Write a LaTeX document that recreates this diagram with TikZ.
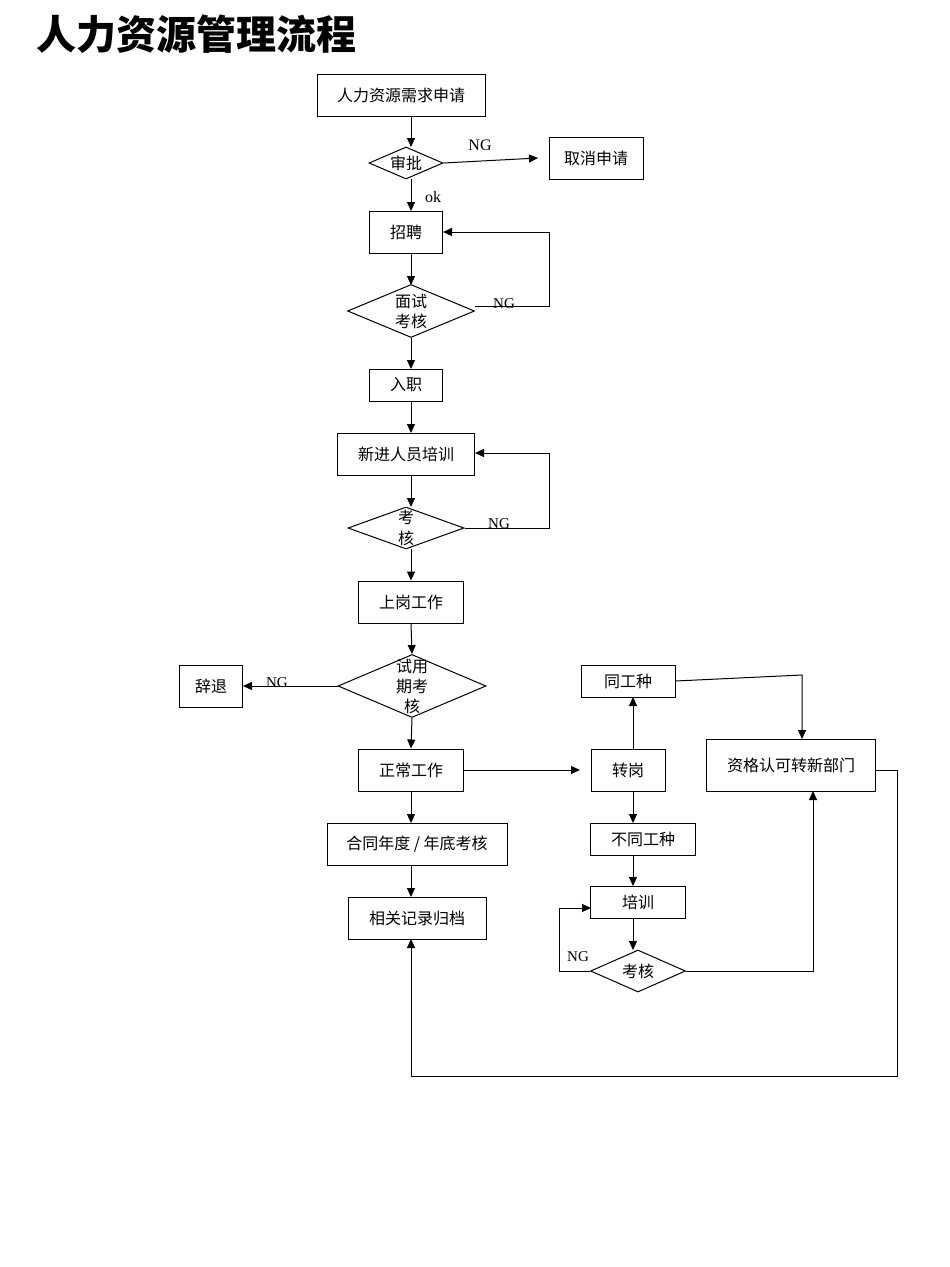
\documentclass[tikz,border=0pt]{standalone}
\usepackage{fontspec}
\setmainfont{Liberation Serif}
\newfontfamily\cjk{Noto Sans CJK SC}
\usetikzlibrary{shapes.geometric,arrows.meta}
\begin{document}
\begin{tikzpicture}[x=1pt,y=-1pt,line width=1pt,
  box/.style={draw,rectangle,inner sep=0,font=\cjk\fontsize{16}{18}\selectfont},
  dia/.style={draw,diamond,inner sep=0,aspect=2},
  dl/.style={font=\cjk\fontsize{16}{20}\selectfont,align=center},
  lab/.style={font=\fontsize{16}{18}\selectfont},
  arr/.style={-{Triangle[length=9pt,width=8pt]}}]
\useasboundingbox (0,0) rectangle (950,1267);
\node[anchor=west,font=\cjk\bfseries\fontsize{40}{44}\selectfont] (title) at (33,34) {人力资源管理流程};
\node[box,minimum width=168,minimum height=42] (req) at (401,95) {人力资源需求申请};
\node[dia,minimum width=74,minimum height=32] (ap) at (406,163) {};
\node[dl] (apt) at (ap) {审批};
\node[box,minimum width=94,minimum height=42] (cancel) at (596,158) {取消申请};
\node[box,minimum width=73,minimum height=42] (rec) at (406,232) {招聘};
\node[dia,minimum width=127,minimum height=53] (iv) at (411,311) {};
\node[dl] (ivt) at (iv) {面试\\考核};
\node[box,minimum width=73,minimum height=32] (join) at (406,385) {入职};
\node[box,minimum width=137,minimum height=42] (tr) at (406,454) {新进人员培训};
\node[dia,minimum width=116,minimum height=42] (ex) at (406,528) {};
\node[dl,font=\cjk\fontsize{16}{21}\selectfont] (ext) at (ex) {考\\核};
\node[box,minimum width=105,minimum height=42] (work) at (411,602) {上岗工作};
\node[dia,minimum width=148,minimum height=63] (pb) at (412,686) {};
\node[dl] (pbt) at (pb) {试用\\期考\\核};
\node[box,minimum width=63,minimum height=42] (res) at (211,686) {辞退};
\node[box,minimum width=105,minimum height=42] (norm) at (411,770) {正常工作};
\node[box,minimum width=180,minimum height=42] (con) at (417,844) {合同年度 / 年底考核};
\node[box,minimum width=138,minimum height=42] (arc) at (417,918) {相关记录归档};
\node[box,minimum width=74,minimum height=42] (tf) at (628,770) {转岗};
\node[box,minimum width=94,minimum height=32] (same) at (628,681) {同工种};
\node[box,minimum width=169,minimum height=52] (qual) at (791,765) {资格认可转新部门};
\node[box,minimum width=105,minimum height=32] (diff) at (643,839) {不同工种};
\node[box,minimum width=95,minimum height=32] (tr2) at (638,902) {培训};
\node[dia,minimum width=95,minimum height=42] (ex2) at (638,971) {};
\node[dl] (ex2t) at (ex2) {考核};
\coordinate (c1) at (549,306); \coordinate (c2) at (549,232);
\coordinate (c3) at (549,528); \coordinate (c4) at (549,453);
\coordinate (c5) at (802,675); \coordinate (c6) at (559,971); \coordinate (c7) at (559,908);
\coordinate (c8) at (813,971); \coordinate (c9) at (897,770); \coordinate (c10) at (897,1076);
\coordinate (c11) at (411,1076);
\draw[arr] (req.south -| 411,0) -- (411,147);
\draw[arr] (ap.east) -- (538,158);
\node[lab] (ng1) at (480,145) {NG};
\draw[arr] (411,179) -- (411,211);
\node[lab] (ok) at (433,197) {ok};
\draw[arr] (411,253) -- (411,285);
\draw[arr] (475,306) -- (c1) -- (c2) -- (rec.east);
\node[lab,font=\fontsize{15}{16}\selectfont] (ng2) at (504,304) {NG};
\draw[arr] (411,338) -- (411,369);
\draw[arr] (411,401) -- (411,433);
\draw[arr] (411,475) -- (411,507);
\draw[arr] (ex.east) -- (c3) -- (c4) -- (475,453);
\node[lab,font=\fontsize{15}{16}\selectfont] (ng3) at (499,524) {NG};
\draw[arr] (411,549) -- (work.north);
\draw[arr] (work.south) -- (pb.north);
\draw[arr] (pb.west) -- (res.east);
\node[lab,font=\fontsize{15}{16}\selectfont] (ng4) at (277,683) {NG};
\draw[arr] (pb.south) -- (norm.north);
\draw[arr] (norm.east) -- (580,770);
\draw[arr] (norm.south) -- (411,823);
\draw[arr] (411,865) -- (411,897);
\draw[arr] (633,749) -- (633,697);
\draw[arr] (same.east) -- (c5) -- (802,739);
\draw[arr] (633,791) -- (633,823);
\draw[arr] (633,855) -- (633,886);
\draw[arr] (633,918) -- (633,950);
\draw[arr] (ex2.west) -- (c6) -- (c7) -- (591,908);
\node[lab,font=\fontsize{15}{16}\selectfont] (ng5) at (578,957) {NG};
\draw[arr] (ex2.east) -- (c8) -- (813,791);
\draw[arr] (qual.east |- c9) -- (c9) -- (c10) -- (c11) -- (411,939);
\end{tikzpicture}
\end{document}
